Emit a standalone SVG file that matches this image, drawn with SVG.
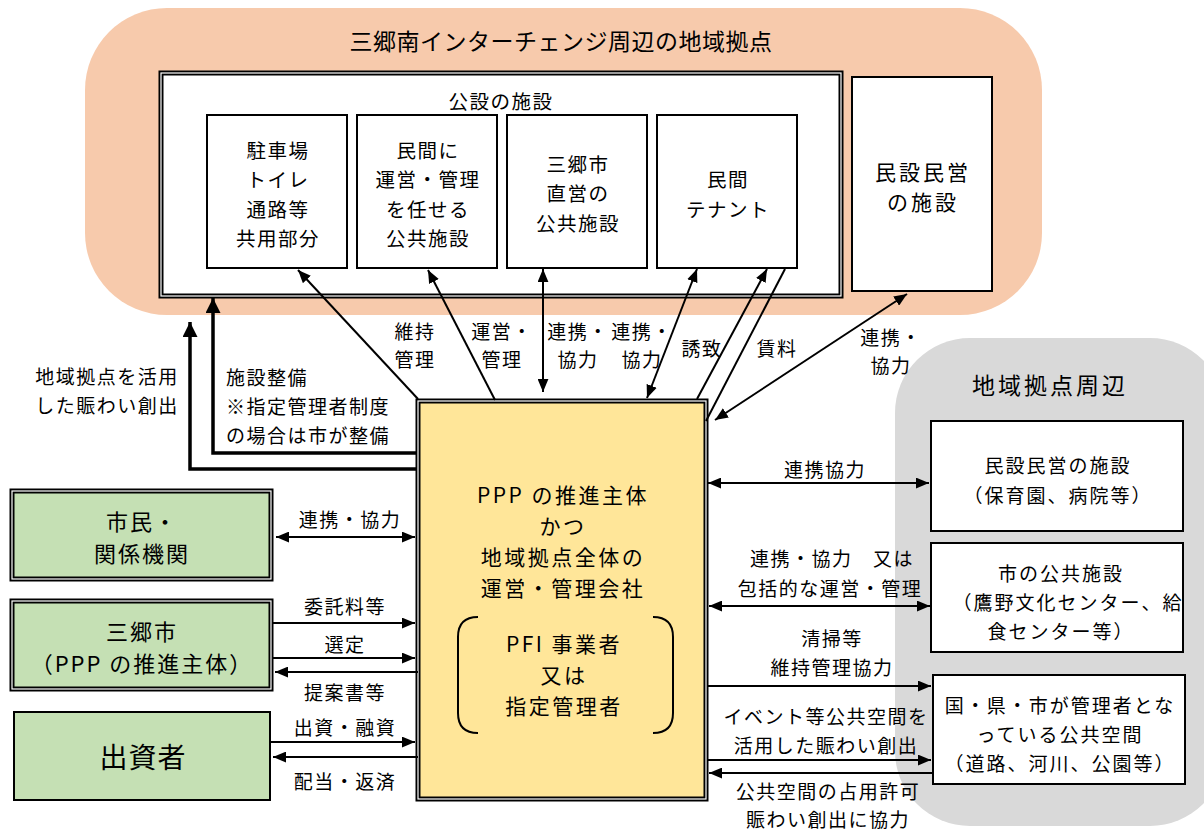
<svg xmlns="http://www.w3.org/2000/svg" width="1204" height="830" viewBox="0 0 1204 830">
<defs>
<marker id="ah" viewBox="0 0 12 10" markerUnits="userSpaceOnUse" markerWidth="13" markerHeight="11" refX="12" refY="5" orient="auto-start-reverse"><path d="M0,0 L12,5 L0,10 z" fill="#000"/></marker>
<marker id="ahT" viewBox="0 0 12 12" markerUnits="userSpaceOnUse" markerWidth="15" markerHeight="15" refX="12" refY="6" orient="auto"><path d="M0,0 L12,6 L0,12 z" fill="#000"/></marker>
</defs>
<style>
text{font-family:"Noto Sans CJK JP","Noto Sans",sans-serif;fill:#000;text-anchor:middle;dominant-baseline:central}
.lab{font-size:19px;letter-spacing:1.5px}
.box-t{font-size:19.5px;letter-spacing:1.5px}
.rt{font-size:19px;letter-spacing:2px}
.big{font-size:21px;letter-spacing:2.5px}
.green{font-size:22px;letter-spacing:2px}
.l{text-anchor:start}
.box{fill:#fff;stroke:#000;stroke-width:2}
.dbl{stroke:#000;stroke-width:5}
.dblin{fill:none;stroke:#fff;stroke-width:1.2}
.c{stroke:#000;stroke-width:2;fill:none}
.ct{stroke:#000;stroke-width:3.5;fill:none}
</style>

<g id="region-hub">
<rect x="85" y="8" width="957" height="307" rx="82" fill="#F7CAAC"/>
<text x="561" y="40" style="font-size:23px;letter-spacing:0.5px">三郷南インターチェンジ周辺の地域拠点</text>
</g>
<g id="region-around">
<rect x="895" y="338" width="330" height="488" rx="75" fill="#D9D9D9"/>
<text x="1050" y="384" style="font-size:23px;letter-spacing:3px">地域拠点周辺</text>
</g>

<g id="public-facilities">
<rect x="161" y="73" width="680" height="223" fill="#fff" class="dbl"/>
<rect x="161" y="73" width="680" height="223" class="dblin"/>
<text class="box-t" x="501" y="100">公設の施設</text>
</g>
<g id="common-parts">
<rect class="box" x="207" y="115" width="140" height="153"/>
<text class="box-t" x="278" y="149">駐車場</text>
<text class="box-t" x="278" y="178.5">トイレ</text>
<text class="box-t" x="278" y="208">通路等</text>
<text class="box-t" x="278" y="237.5">共用部分</text>
</g>
<g id="entrusted-public">
<rect class="box" x="357" y="115" width="140" height="153"/>
<text class="box-t" x="428" y="149">民間に</text>
<text class="box-t" x="428" y="178.5">運営・管理</text>
<text class="box-t" x="428" y="208">を任せる</text>
<text class="box-t" x="428" y="237.5">公共施設</text>
</g>
<g id="city-direct">
<rect class="box" x="507" y="115" width="140" height="153"/>
<text class="box-t" x="578" y="163">三郷市</text>
<text class="box-t" x="578" y="192.5">直営の</text>
<text class="box-t" x="578" y="222">公共施設</text>
</g>
<g id="private-tenant">
<rect class="box" x="657" y="115" width="140" height="153"/>
<text class="box-t" x="728" y="178">民間</text>
<text class="box-t" x="728" y="208">テナント</text>
</g>
<g id="private-facility-hub">
<rect class="box" x="852" y="77" width="140" height="214"/>
<text x="923" y="171" style="font-size:21px;letter-spacing:3px">民設民営</text>
<text x="923" y="201" style="font-size:21px;letter-spacing:3px">の施設</text>
</g>

<g id="citizens">
<rect x="12" y="491" width="259" height="88" fill="#C5E0B4" class="dbl"/>
<rect x="12" y="491" width="259" height="88" class="dblin"/>
<text class="green" x="142" y="520">市民・</text>
<text class="green" x="142" y="552">関係機関</text>
</g>
<g id="misato-city">
<rect x="12" y="601" width="259" height="88" fill="#C5E0B4" class="dbl"/>
<rect x="12" y="601" width="259" height="88" class="dblin"/>
<text class="green" x="142" y="630">三郷市</text>
<text class="green" x="142" y="662">（PPP の推進主体）</text>
</g>
<g id="investors">
<rect x="14" y="712" width="256" height="88" fill="#C5E0B4" stroke="#000" stroke-width="2"/>
<text x="143" y="756" style="font-size:28px;letter-spacing:1px">出資者</text>
</g>

<g id="operator">
<rect x="418" y="401" width="288" height="398" fill="#FFE699" class="dbl"/>
<rect x="418" y="401" width="288" height="398" class="dblin"/>
<text class="big" x="563" y="494">PPP の推進主体</text>
<text class="big" x="563" y="525">かつ</text>
<text class="big" x="563" y="556">地域拠点全体の</text>
<text class="big" x="563" y="587">運営・管理会社</text>
<path d="M478,617 Q458,617 458,637 L458,713 Q458,733 478,733" class="c"/>
<path d="M653,617 Q673,617 673,637 L673,713 Q673,733 653,733" class="c"/>
<text class="big" x="564" y="643">PFI 事業者</text>
<text class="big" x="564" y="674">又は</text>
<text class="big" x="564" y="705">指定管理者</text>
</g>

<g id="private-facility-around">
<rect class="box" x="931" y="421" width="252" height="110"/>
<text class="rt" x="1058" y="464">民設民営の施設</text>
<text class="rt" x="1058" y="494">（保育園、病院等）</text>
</g>
<g id="city-public-facility">
<rect class="box" x="931" y="543" width="252" height="109"/>
<text class="rt" x="1061" y="572">市の公共施設</text>
<text class="rt" x="1068" y="601">（鷹野文化センター、給</text>
<text class="rt" x="1061" y="630">食センター等）</text>
</g>
<g id="public-space">
<rect class="box" x="933" y="675" width="252" height="109"/>
<text class="rt" x="1060" y="704">国・県・市が管理者とな</text>
<text class="rt" x="1060" y="733">っている公共空間</text>
<text class="rt" x="1060" y="762">（道路、河川、公園等）</text>
</g>

<g id="connectors">
<polyline class="ct" points="417,469 190,469 190,322" marker-end="url(#ahT)"/>
<polyline class="ct" points="417,453 213,453 213,298" marker-end="url(#ahT)"/>
<line class="c" x1="418" y1="399" x2="298" y2="270" marker-end="url(#ah)"/>
<line class="c" x1="495" y1="400" x2="428" y2="270" marker-end="url(#ah)"/>
<line class="c" x1="543" y1="392" x2="543" y2="269" marker-start="url(#ah)" marker-end="url(#ah)"/>
<line class="c" x1="647" y1="398" x2="697" y2="269" marker-start="url(#ah)" marker-end="url(#ah)"/>
<line class="c" x1="697" y1="399" x2="767" y2="269" marker-end="url(#ah)"/>
<line class="c" x1="706" y1="421" x2="785" y2="269"/>
<line class="c" x1="715" y1="420" x2="907" y2="294" marker-start="url(#ah)" marker-end="url(#ah)"/>

<line class="c" x1="276" y1="537" x2="415" y2="537" marker-start="url(#ah)" marker-end="url(#ah)"/>
<line class="c" x1="272" y1="623" x2="415" y2="623" marker-end="url(#ah)"/>
<line class="c" x1="272" y1="658" x2="415" y2="658" marker-end="url(#ah)"/>
<line class="c" x1="418" y1="672" x2="275" y2="672" marker-end="url(#ah)"/>
<line class="c" x1="270" y1="742" x2="415" y2="742" marker-end="url(#ah)"/>
<line class="c" x1="418" y1="757" x2="273" y2="757" marker-end="url(#ah)"/>

<line class="c" x1="708" y1="483" x2="929" y2="483" marker-start="url(#ah)" marker-end="url(#ah)"/>
<line class="c" x1="709" y1="606" x2="930" y2="606" marker-start="url(#ah)" marker-end="url(#ah)"/>
<line class="c" x1="707" y1="686" x2="931" y2="686" marker-end="url(#ah)"/>
<line class="c" x1="707" y1="760" x2="931" y2="760" marker-end="url(#ah)"/>
<line class="c" x1="933" y1="773" x2="709" y2="773" marker-end="url(#ah)"/>

<text class="lab" x="107" y="375">地域拠点を活用</text>
<text class="lab" x="107" y="404">した賑わい創出</text>
<text class="lab l" x="226" y="376">施設整備</text>
<text class="lab l" x="226" y="405">※指定管理者制度</text>
<text class="lab l" x="226" y="434">の場合は市が整備</text>
<text class="lab" x="415" y="330">維持</text>
<text class="lab" x="415" y="358">管理</text>
<text class="lab" x="502" y="330">運営・</text>
<text class="lab" x="502" y="358">管理</text>
<text class="lab" x="578" y="330">連携・</text>
<text class="lab" x="578" y="358">協力</text>
<text class="lab" x="642" y="330">連携・</text>
<text class="lab" x="642" y="358">協力</text>
<text class="lab" x="702" y="347">誘致</text>
<text class="lab" x="777" y="347">賃料</text>
<text class="lab" x="891" y="336">連携・</text>
<text class="lab" x="891" y="364">協力</text>

<text class="lab" x="350" y="518">連携・協力</text>
<text class="lab" x="345" y="605">委託料等</text>
<text class="lab" x="345" y="643">選定</text>
<text class="lab" x="345" y="691">提案書等</text>
<text class="lab" x="345" y="726">出資・融資</text>
<text class="lab" x="345" y="780">配当・返済</text>

<text class="lab" x="825" y="468">連携協力</text>
<text class="lab" x="832" y="557">連携・協力　又は</text>
<text class="lab" x="830" y="587">包括的な運営・管理</text>
<text class="lab" x="832" y="637">清掃等</text>
<text class="lab" x="832" y="666">維持管理協力</text>
<text class="lab" x="826" y="715">イベント等公共空間を</text>
<text class="lab" x="826" y="744">活用した賑わい創出</text>
<text class="lab" x="828" y="790">公共空間の占用許可</text>
<text class="lab" x="828" y="818">賑わい創出に協力</text>
</g>
</svg>
